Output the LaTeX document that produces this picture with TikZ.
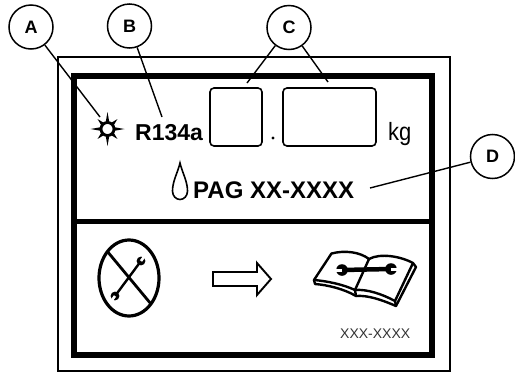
\documentclass[tikz,border=0pt]{standalone}
\usepackage{fontspec}
\setmainfont{Liberation Sans}
\begin{document}
\begin{tikzpicture}[x=1pt,y=-1pt,
  callout/.style={circle, draw, line width=1.5pt, minimum size=44pt, inner sep=0pt,
    font=\bfseries\fontsize{18}{18}\selectfont},
  leader/.style={line width=1.4pt},
  frameouter/.style={line width=2.4pt},
  frameinner/.style={line width=5.5pt},
  valuebox/.style={draw, line width=1.6pt, rounded corners=4pt, inner sep=0pt},
  boldtext/.style={inner sep=0pt, anchor=base west, font=\bfseries\fontsize{23}{23}\selectfont},
  plaintext/.style={inner sep=0pt, anchor=base west},
  icon/.style={line width=2.4pt, line join=round, line cap=round},
]
\useasboundingbox (0,0) rectangle (515,378);

% label frames
\draw[frameouter] (58,57) rectangle (450,371);
\draw[frameinner] (74,76) rectangle (432,355);
\draw[line width=5pt] (74,221) -- (432,221);

% refrigerant line
\coordinate (sunc) at (107.5,129);
\begin{scope}[shift={(sunc)}]
  \draw[line width=2.8pt] (0,0) circle[radius=6.5pt];
  \foreach \a in {0,90,180,270} \fill (\a-15:7) -- (\a:17) -- (\a+15:7) -- cycle;
  \foreach \a in {45,135,225,315} \fill (\a-15:7) -- (\a:14) -- (\a+15:7) -- cycle;
\end{scope}
\node[boldtext] (gas) at (135,140) {R134a};
\node[valuebox, minimum width=52pt, minimum height=58pt] (box1) at (236,117) {};
\node[valuebox, minimum width=93pt, minimum height=58pt] (box2) at (329.5,117) {};
\fill (273,138) circle[radius=1.7pt];
\node[plaintext, font=\fontsize{25}{25}\selectfont, xscale=0.88] (unit) at (388,140) {kg};

% oil line
\draw[line width=1.6pt] (180,163) .. controls (178,172) and (172.5,181) .. (172.5,191)
  .. controls (172.5,196) and (176,199.5) .. (180,199.5)
  .. controls (184,199.5) and (187.5,196) .. (187.5,191)
  .. controls (187.5,181) and (182,172) .. (180,163) -- cycle;
\node[boldtext, font=\bfseries\fontsize{24}{24}\selectfont] (oil) at (193,198) {PAG XX-XXXX};

% no-service symbol
\draw[line width=3.2pt] (129,278) ellipse[x radius=30pt, y radius=38pt];
\draw[line width=2.8pt] (107,251) -- (151,304);
\draw[line width=2.4pt] (115,296) -- (141,261);
\fill (141,261) circle[radius=4.4pt];
\fill (115,296) circle[radius=4.4pt];
\draw[white, line width=2.6pt] (141,261) -- (145,255.5);
\draw[white, line width=2.6pt] (115,296) -- (111,301.5);

% hollow arrow
\draw[line width=1.9pt, line join=miter] (213,272) -- (257,272) -- (257,263) -- (271,279)
  -- (257,295) -- (257,286) -- (213,286) -- cycle;

% manual
\begin{scope}[icon]
  \draw (314,280) -- (331.5,253.5) .. controls (345,250) and (360,252) .. (369,259)
    -- (355,290) .. controls (342,284) and (326,281) .. cycle;
  \draw (369,259) .. controls (380,253) and (400,256) .. (413,263)
    -- (395,301) .. controls (382,294) and (367,289) .. (355,290);
  \draw (314,280) -- (315,284) .. controls (328,285) and (344,289) .. (356,296)
    .. controls (368,295) and (382,300) .. (396,306) -- (416,267) -- (413,263);
  \draw (355,290) -- (356,296);
  \draw (395,301) -- (396,306);
\end{scope}
\draw[line width=4.5pt] (342,270) -- (391,269);
\fill (342,270) circle[radius=5.8pt];
\fill (391,269) circle[radius=5.8pt];
\draw[white, line width=3pt] (342,270) -- (335,270);
\draw[white, line width=3pt] (391,269) -- (398,269);
\node[plaintext, font=\fontsize{14}{14}\selectfont, text=black!80] (ref) at (340,338) {XXX-XXXX};

% callouts
\node[callout] (A) at (31,27) {A};
\node[callout] (B) at (129.5,26) {B};
\node[callout] (C) at (289,27.5) {C};
\node[callout] (D) at (492.5,156.5) {D};
\coordinate (pA) at (100,117);
\coordinate (pB) at (162,117);
\coordinate (pC1) at (247,83);
\coordinate (pC2) at (328,82);
\coordinate (pD) at (370,188);
\draw[leader] (A) -- (pA);
\draw[leader] (B) -- (pB);
\draw[leader] (C) -- (pC1);
\draw[leader] (C) -- (pC2);
\draw[leader] (D) -- (pD);
\end{tikzpicture}
\end{document}
